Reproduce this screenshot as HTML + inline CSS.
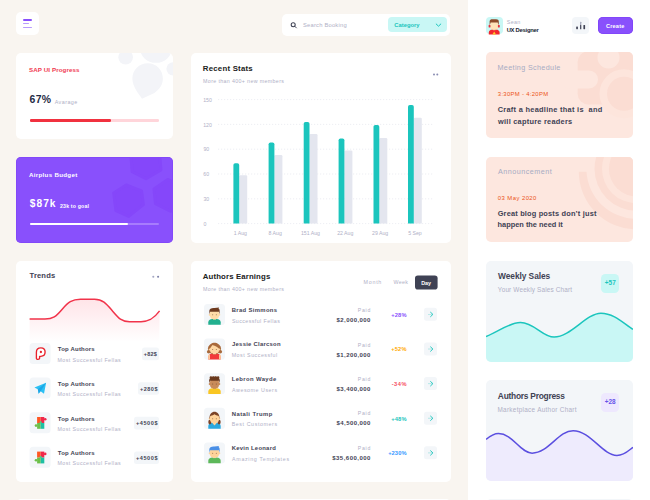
<!DOCTYPE html>
<html><head><meta charset="utf-8"><style>
html,body{margin:0;padding:0;}
body{width:650px;height:500px;overflow:hidden;position:relative;background:#F9F5F0;font-family:"Liberation Sans",sans-serif;}
.a{position:absolute;}
.t{position:absolute;white-space:pre;line-height:20px;height:20px;}
.r{}
</style></head><body>
<!-- sidebar -->
<div class="a" style="left:468px;top:0;width:182px;height:500px;background:#fff"></div>
<!-- menu button -->
<div class="a" style="left:16px;top:12px;width:23px;height:23px;background:#fff;border-radius:5px"></div>
<div class="a" style="left:23.2px;top:19.4px;width:9.3px;height:1.3px;background:#8950FC;border-radius:1px"></div>
<div class="a" style="left:23.2px;top:23px;width:6px;height:1.1px;background:#B99BFD;border-radius:1px"></div>
<div class="a" style="left:23.2px;top:26.8px;width:9.3px;height:1.1px;background:#B99BFD;border-radius:1px"></div>
<!-- search -->
<div class="a" style="left:282.2px;top:13.5px;width:168.3px;height:22.1px;background:#fff;border-radius:5px"></div>
<div class="a" style="left:388.4px;top:17px;width:58.9px;height:15.2px;background:#C9F7F5;border-radius:4px"></div>
<svg class="a" style="left:0;top:0" width="650" height="500" viewBox="0 0 650 500">
  <circle cx="293.2" cy="24.7" r="2" fill="none" stroke="#3F4254" stroke-width="1.05"/>
  <line x1="294.9" y1="26.4" x2="296.4" y2="27.9" stroke="#3F4254" stroke-width="0.9" stroke-linecap="round"/>
  <polyline points="436.2,24 438.5,26.2 440.8,24" fill="none" stroke="#1BC5BD" stroke-width="1" stroke-linecap="round" stroke-linejoin="round"/>
</svg>
<!-- left cards -->
<div class="a" style="left:16px;top:52.5px;width:156.5px;height:86.2px;background:#fff;border-radius:5px;overflow:hidden">
  <svg width="157" height="87" viewBox="16 52.5 156.5 86.2" style="display:block">
    <g fill="#F3F4F8">
      <circle cx="125.3" cy="56.5" r="7.3"/>
      <ellipse cx="155.5" cy="47" rx="16" ry="15"/>
      <circle cx="172.5" cy="68" r="6.6"/>
      <path d="M147.2 62.4 C156 62.4 162.4 69.2 162.4 77.6 C162.4 84 159 88.5 154 92 L141.6 97.8 C138.5 93 132 86 132 77.6 C132 69.2 138.8 62.4 147.2 62.4 Z"/>
    </g>
  </svg>
</div>
<div class="a" style="left:29.6px;top:119.3px;width:129.6px;height:2.3px;background:#FFD5DA;border-radius:1.2px"></div>
<div class="a" style="left:29.6px;top:119.3px;width:81.3px;height:2.3px;background:#F1313F;border-radius:1.2px"></div>

<div class="a" style="left:16px;top:156.5px;width:156.5px;height:86.5px;background:#8950FC;border-radius:5px;overflow:hidden;box-shadow:inset 0 0 0 0.5px #7C40F6">
  <svg width="157" height="87" viewBox="16 156.5 156.5 86.5" style="display:block">
    <g fill="#8547FA" stroke="#8547FA" stroke-width="3" stroke-linejoin="round">
      <polygon points="125.8,184.3 141.1,190.1 143.0,203.9 128.4,215.6 115.6,209.8 113.4,192.3"/>
      <polygon points="130.3,151.2 158.7,147.6 160.5,169.4 145.6,178.1 131.7,170.9"/>
      <polygon points="167.3,178.8 183.5,185.9 183.5,204.1 169.9,210.5 155.0,202.8 153.5,188.3"/>
    </g>
  </svg>
</div>
<div class="a" style="left:29.6px;top:223.3px;width:129.6px;height:2.2px;background:#A77CFD;border-radius:1.1px"></div>
<div class="a" style="left:29.6px;top:223.3px;width:98.4px;height:2.2px;background:#fff;border-radius:1.1px"></div>

<div class="a" style="left:16px;top:260.5px;width:156.5px;height:221px;background:#fff;border-radius:5px"></div>
<div class="a" style="left:16px;top:499px;width:156.5px;height:10px;background:#fff;border-radius:5px"></div>
<!-- middle cards -->
<div class="a" style="left:191px;top:52.5px;width:260px;height:190.2px;background:#fff;border-radius:5px"></div>
<div class="a" style="left:191px;top:260.5px;width:260px;height:221px;background:#fff;border-radius:5px"></div>
<div class="a" style="left:191px;top:499px;width:260px;height:10px;background:#fff;border-radius:5px"></div>
<!-- right column -->
<div class="a" style="left:485.8px;top:17.3px;width:17.2px;height:17.2px;background:#C9F7F5;border-radius:4px"></div>
<div class="a" style="left:572.3px;top:17.2px;width:16.8px;height:16.8px;background:#F3F6F9;border-radius:4px"></div>
<div class="a" style="left:598.1px;top:17.2px;width:34.5px;height:17.3px;background:#8950FC;border-radius:5px;box-shadow:inset 0 0 0 0.6px #7A3EF6"></div>
<div class="a" style="left:485.5px;top:52px;width:147px;height:86.2px;background:#FDE7DF;border-radius:5px;overflow:hidden">
  <svg width="147" height="87" viewBox="485.5 52 147 86.2" style="display:block">
    <g fill="#FBDDD3"><circle cx="587.7" cy="61.5" r="10.5"/><circle cx="587.7" cy="93.5" r="10.5"/><rect x="577.2" y="61.5" width="20" height="32"/><rect x="587.7" y="40" width="60" height="64"/></g>
    <rect x="560" y="70" width="37.5" height="18" rx="9" fill="#FDE7DF"/>
    <circle cx="608" cy="57" r="11" fill="#FDE7DF"/>
    <circle cx="623.5" cy="93.3" r="24.5" fill="#FDE5DC"/>
    <circle cx="623.5" cy="93.3" r="17" fill="#FBDDD3"/>
  </svg>
</div>
<div class="a" style="left:485.5px;top:156.5px;width:147px;height:85.5px;background:#FDE7DF;border-radius:5px;overflow:hidden">
  <svg width="147" height="86" viewBox="485.5 156.5 147 85.5" style="display:block">
    <path d="M578.3 170.9 A57.7 57.7 0 0 0 636 228.6 L636 218 A50 50 0 0 1 586 170.9 Z" fill="#FBDDD3"/>
    <circle cx="636" cy="168" r="42" fill="#FBDDD3"/>
    <circle cx="636" cy="168" r="34.5" fill="#FDE5DC"/>
    <circle cx="636" cy="168" r="27.6" fill="#FBDDD3"/>
  </svg>
</div>
<div class="a" style="left:485.5px;top:260.8px;width:147px;height:100.8px;background:#F3F6F9;border-radius:5px;overflow:hidden">
  <svg width="147" height="101" viewBox="485.5 260.8 147 100.8" style="display:block">
    <path d="M485.5 336.3 C500 330 510 322 520 322.2 C534 322.4 542 336.8 553.6 336.8 C570 336.8 586 312.9 600.4 312.9 C614 312.9 624 324 632.5 329 L632.5 362 L485.5 362 Z" fill="#C9F7F5"/>
    <path d="M485.5 336.3 C500 330 510 322 520 322.2 C534 322.4 542 336.8 553.6 336.8 C570 336.8 586 312.9 600.4 312.9 C614 312.9 624 324 632.5 329" fill="none" stroke="#1BC5BD" stroke-width="1.5"/>
  </svg>
</div>
<div class="a" style="left:600.8px;top:273.7px;width:18.7px;height:18.9px;background:#C9F7F5;border-radius:4.5px"></div>
<div class="a" style="left:485.5px;top:379.7px;width:147px;height:101.3px;background:#F3F6F9;border-radius:5px;overflow:hidden">
  <svg width="147" height="102" viewBox="485.5 379.7 147 101.3" style="display:block">
    <path d="M485.5 438.7 C490 435 494 432.9 498 432.9 C512 432.9 520 452.5 531.6 452.5 C548 452.5 558 430 572.6 430 C590 430 602 454.8 616.4 454.8 C624 454.8 628 450 632.5 446.6 L632.5 482 L485.5 482 Z" fill="#EEEBFD"/>
    <path d="M485.5 438.7 C490 435 494 432.9 498 432.9 C512 432.9 520 452.5 531.6 452.5 C548 452.5 558 430 572.6 430 C590 430 602 454.8 616.4 454.8 C624 454.8 628 450 632.5 446.6" fill="none" stroke="#5B4FE0" stroke-width="1.5"/>
  </svg>
</div>
<div class="a" style="left:600.8px;top:392.7px;width:18.7px;height:18.9px;background:#EEE8FE;border-radius:4.5px"></div>
<div class="a" style="left:485.5px;top:499px;width:147px;height:10px;background:#F3F6F9;border-radius:5px"></div>
<svg class="a" style="left:0;top:0" width="650" height="500" viewBox="0 0 650 500">
<line x1="218" y1="99.6" x2="433" y2="99.6" stroke="#E9EAF0" stroke-width="0.8" stroke-dasharray="1.2 1.8"/>
<line x1="218" y1="124.4" x2="433" y2="124.4" stroke="#E9EAF0" stroke-width="0.8" stroke-dasharray="1.2 1.8"/>
<line x1="218" y1="149.2" x2="433" y2="149.2" stroke="#E9EAF0" stroke-width="0.8" stroke-dasharray="1.2 1.8"/>
<line x1="218" y1="174" x2="433" y2="174" stroke="#E9EAF0" stroke-width="0.8" stroke-dasharray="1.2 1.8"/>
<line x1="218" y1="198.8" x2="433" y2="198.8" stroke="#E9EAF0" stroke-width="0.8" stroke-dasharray="1.2 1.8"/>
<line x1="218" y1="223.6" x2="433" y2="223.6" stroke="#E9EAF0" stroke-width="0.8" stroke-dasharray="1.2 1.8"/>
<path d="M239.20000000000002 176.39999999999998 Q239.20000000000002 175.2 240.4 175.2 L246.0 175.2 Q247.20000000000002 175.2 247.20000000000002 176.39999999999998 L247.20000000000002 223.4 L239.20000000000002 223.4 Z" fill="#E4E6EF"/>
<path d="M233.4 165.0 Q233.4 163.2 235.20000000000002 163.2 L237.4 163.2 Q239.20000000000002 163.2 239.20000000000002 165.0 L239.20000000000002 223.4 L233.4 223.4 Z" fill="#1BC5BD"/>
<path d="M274.40000000000003 156.2 Q274.40000000000003 155 275.6 155 L281.20000000000005 155 Q282.40000000000003 155 282.40000000000003 156.2 L282.40000000000003 223.4 L274.40000000000003 223.4 Z" fill="#E4E6EF"/>
<path d="M268.6 144.20000000000002 Q268.6 142.4 270.40000000000003 142.4 L272.6 142.4 Q274.40000000000003 142.4 274.40000000000003 144.20000000000002 L274.40000000000003 223.4 L268.6 223.4 Z" fill="#1BC5BD"/>
<path d="M309.5 135.2 Q309.5 134 310.7 134 L316.3 134 Q317.5 134 317.5 135.2 L317.5 223.4 L309.5 223.4 Z" fill="#E4E6EF"/>
<path d="M303.7 123.8 Q303.7 122 305.5 122 L307.7 122 Q309.5 122 309.5 123.8 L309.5 223.4 L303.7 223.4 Z" fill="#1BC5BD"/>
<path d="M344.40000000000003 151.7 Q344.40000000000003 150.5 345.6 150.5 L351.20000000000005 150.5 Q352.40000000000003 150.5 352.40000000000003 151.7 L352.40000000000003 223.4 L344.40000000000003 223.4 Z" fill="#E4E6EF"/>
<path d="M338.6 140.3 Q338.6 138.5 340.40000000000003 138.5 L342.6 138.5 Q344.40000000000003 138.5 344.40000000000003 140.3 L344.40000000000003 223.4 L338.6 223.4 Z" fill="#1BC5BD"/>
<path d="M379.3 139.2 Q379.3 138 380.5 138 L386.1 138 Q387.3 138 387.3 139.2 L387.3 223.4 L379.3 223.4 Z" fill="#E4E6EF"/>
<path d="M373.5 126.8 Q373.5 125 375.3 125 L377.5 125 Q379.3 125 379.3 126.8 L379.3 223.4 L373.5 223.4 Z" fill="#1BC5BD"/>
<path d="M413.8 119.0 Q413.8 117.8 415 117.8 L420.6 117.8 Q421.8 117.8 421.8 119.0 L421.8 223.4 L413.8 223.4 Z" fill="#E4E6EF"/>
<path d="M408 106.8 Q408 105 409.8 105 L412 105 Q413.8 105 413.8 106.8 L413.8 223.4 L408 223.4 Z" fill="#1BC5BD"/>
<circle cx="434" cy="74.6" r="1" fill="#8A8DB3"/><circle cx="437.3" cy="74.6" r="1" fill="#8A8DB3"/>
<circle cx="153.3" cy="276.7" r="1.05" fill="#A5A8C3"/><circle cx="158.1" cy="276.7" r="1.05" fill="#7E82A8"/>
<defs><linearGradient id="gr" x1="0" y1="0" x2="0" y2="1"><stop offset="0" stop-color="#FFE4E8"/><stop offset="1" stop-color="#FFFFFF"/></linearGradient></defs>
<path d="M29.6 319.1 L45 319.1 C53 319.1 56 316.5 62 309.5 C68 302.3 72 299.3 80.5 299.3 L94.5 299.3 C103 299.3 106.5 304 112.5 311 C118.5 318 121.5 321.7 129.5 321.7 L141 321.7 C149 321.7 154 318.5 159.6 310.9 L159.2 342 L29.6 342 Z" fill="url(#gr)"/>
<path d="M29.6 319.1 L45 319.1 C53 319.1 56 316.5 62 309.5 C68 302.3 72 299.3 80.5 299.3 L94.5 299.3 C103 299.3 106.5 304 112.5 311 C118.5 318 121.5 321.7 129.5 321.7 L141 321.7 C149 321.7 154 318.5 159.6 310.9" fill="none" stroke="#F1334A" stroke-width="1.5"/>
<rect x="29.6" y="343.0" width="21" height="21" rx="3.5" fill="#F3F6F9"/>
<rect x="142" y="347.6" width="17" height="12.6" rx="2.5" fill="#F3F6F9"/>
<rect x="29.6" y="377.6" width="21" height="21" rx="3.5" fill="#F3F6F9"/>
<rect x="138" y="382.20000000000005" width="21" height="12.6" rx="2.5" fill="#F3F6F9"/>
<rect x="29.6" y="412.2" width="21" height="21" rx="3.5" fill="#F3F6F9"/>
<rect x="134" y="416.8" width="25" height="12.6" rx="2.5" fill="#F3F6F9"/>
<rect x="29.6" y="446.8" width="21" height="21" rx="3.5" fill="#F3F6F9"/>
<rect x="134" y="451.40000000000003" width="25" height="12.6" rx="2.5" fill="#F3F6F9"/>
<path d="M36.4 352.2 C36.4 349.3 38.5 347.8 40.9 347.8 C43.5 347.8 45.1 349.7 45.1 352.1 C45.1 354.6 43.2 356.3 40.8 356.3 L39.6 356.3 L39.6 358.3 C39.6 359.7 36.4 359.9 36.4 358.2 Z" fill="#fff" stroke="#E8222C" stroke-width="1.35" stroke-linejoin="round"/>
<circle cx="40.9" cy="352" r="1.15" fill="#E8222C"/>
<polygon points="46.1,382.7 34.4,387.5 37.8,389.2 38.6,393.8 40.6,391.2 44,393.8" fill="#2BC0F4"/>
<polygon points="46.1,382.7 37.8,389.2 38.6,393.8 40.6,391.2" fill="#1394DC" opacity="0.6"/>
<rect x="37.1" y="417" width="3.6" height="6" fill="#FF5722"/>
<rect x="40.7" y="417" width="3.6" height="6" fill="#F0284A"/>
<circle cx="45.2" cy="419.3" r="1.3" fill="#F0284A"/>
<rect x="37.1" y="423" width="3.6" height="5.8" fill="#6CC04A"/>
<circle cx="36" cy="425.6" r="1.3" fill="#6CC04A"/>
<rect x="40.7" y="423" width="3.6" height="5.8" fill="#1DBFA4"/>
<circle cx="40.7" cy="422.4" r="1.1" fill="#43D18A"/>
<rect x="37.1" y="451.6" width="3.6" height="6" fill="#FF5722"/>
<rect x="40.7" y="451.6" width="3.6" height="6" fill="#F0284A"/>
<circle cx="45.2" cy="453.90000000000003" r="1.3" fill="#F0284A"/>
<rect x="37.1" y="457.6" width="3.6" height="5.8" fill="#6CC04A"/>
<circle cx="36" cy="460.20000000000005" r="1.3" fill="#6CC04A"/>
<rect x="40.7" y="457.6" width="3.6" height="5.8" fill="#1DBFA4"/>
<circle cx="40.7" cy="457.0" r="1.1" fill="#43D18A"/>
<rect x="415" y="275.4" width="22.6" height="14.2" rx="2.8" fill="#3F4254"/>
<rect x="204" y="303.9" width="21" height="21.2" rx="3.5" fill="#F3F6F9"/>
<rect x="424" y="307.8" width="13" height="13" rx="2.5" fill="#F3F6F9"/>
<polyline points="430.6,312.3 432.9,314.4 430.6,316.6" fill="none" stroke="#1BC5BD" stroke-width="0.95" stroke-linecap="round" stroke-linejoin="round"/>
<line x1="428" y1="314.4" x2="432.4" y2="314.4" stroke="#1BC5BD" stroke-width="0.8" opacity="0.35"/>
<rect x="204" y="338.52" width="21" height="21.2" rx="3.5" fill="#F3F6F9"/>
<rect x="424" y="342.42" width="13" height="13" rx="2.5" fill="#F3F6F9"/>
<polyline points="430.6,346.92 432.9,349.02 430.6,351.22" fill="none" stroke="#1BC5BD" stroke-width="0.95" stroke-linecap="round" stroke-linejoin="round"/>
<line x1="428" y1="349.02" x2="432.4" y2="349.02" stroke="#1BC5BD" stroke-width="0.8" opacity="0.35"/>
<rect x="204" y="373.14" width="21" height="21.2" rx="3.5" fill="#F3F6F9"/>
<rect x="424" y="377.04" width="13" height="13" rx="2.5" fill="#F3F6F9"/>
<polyline points="430.6,381.54 432.9,383.64 430.6,385.84000000000003" fill="none" stroke="#1BC5BD" stroke-width="0.95" stroke-linecap="round" stroke-linejoin="round"/>
<line x1="428" y1="383.64" x2="432.4" y2="383.64" stroke="#1BC5BD" stroke-width="0.8" opacity="0.35"/>
<rect x="204" y="407.76" width="21" height="21.2" rx="3.5" fill="#F3F6F9"/>
<rect x="424" y="411.65999999999997" width="13" height="13" rx="2.5" fill="#F3F6F9"/>
<polyline points="430.6,416.15999999999997 432.9,418.26 430.6,420.46000000000004" fill="none" stroke="#1BC5BD" stroke-width="0.95" stroke-linecap="round" stroke-linejoin="round"/>
<line x1="428" y1="418.26" x2="432.4" y2="418.26" stroke="#1BC5BD" stroke-width="0.8" opacity="0.35"/>
<rect x="204" y="442.38" width="21" height="21.2" rx="3.5" fill="#F3F6F9"/>
<rect x="424" y="446.28" width="13" height="13" rx="2.5" fill="#F3F6F9"/>
<polyline points="430.6,450.78 432.9,452.88 430.6,455.08000000000004" fill="none" stroke="#1BC5BD" stroke-width="0.95" stroke-linecap="round" stroke-linejoin="round"/>
<line x1="428" y1="452.88" x2="432.4" y2="452.88" stroke="#1BC5BD" stroke-width="0.8" opacity="0.35"/>
<path d="M208.3 324.8 L208.3 322.20000000000005 C208.3 320.20000000000005 209.9 319.20000000000005 212.3 319.0 L216.7 319.0 C219.1 319.20000000000005 220.7 320.20000000000005 220.7 322.20000000000005 L220.7 324.8 Z" fill="#22B08F"/><rect x="213.0" y="317.0" width="3" height="2.6" fill="#FFDCA8"/><circle cx="209.8" cy="314.8" r="1.1" fill="#FFDCA8"/><circle cx="219.2" cy="314.8" r="1.1" fill="#FFDCA8"/><rect x="210.0" y="309.6" width="9" height="9.4" rx="3.6" fill="#FFDCA8"/><path d="M209.5 314.6 L209.3 311.0 C209.3 308.6 211.5 307.8 214.5 308.0 L219.1 307.40000000000003 L218.5 308.6 C219.8 309.20000000000005 219.8 310.6 219.6 314.6 L218.9 311.8 L210.1 311.8 Z" fill="#6E3B1F"/><circle cx="212.7" cy="314.8" r="0.5" fill="#5B3A29" opacity="0.7"/><circle cx="216.3" cy="314.8" r="0.5" fill="#5B3A29" opacity="0.7"/>
<path d="M208.3 359.42 L208.3 356.82000000000005 C208.3 354.82000000000005 209.9 353.82000000000005 212.3 353.62 L216.7 353.62 C219.1 353.82000000000005 220.7 354.82000000000005 220.7 356.82000000000005 L220.7 359.42 Z" fill="#F23A3A"/><ellipse cx="214.5" cy="348.82000000000005" rx="6.6" ry="5.6" fill="#A96A3C"/><circle cx="208.7" cy="351.82000000000005" r="1.8" fill="#A96A3C"/><circle cx="220.3" cy="351.82000000000005" r="1.8" fill="#A96A3C"/><rect x="208.3" y="354.62" width="1.6" height="4.8" fill="#FFD8A4"/><rect x="219.1" y="354.62" width="1.6" height="4.8" fill="#FFD8A4"/><rect x="213.0" y="351.62" width="3" height="2.6" fill="#FFD8A4"/><circle cx="209.8" cy="349.42" r="1.1" fill="#FFD8A4"/><circle cx="219.2" cy="349.42" r="1.1" fill="#FFD8A4"/><rect x="210.0" y="344.22" width="9" height="9.4" rx="3.6" fill="#FFD8A4"/><path d="M209.5 349.22 C209.1 344.22 211.9 342.82000000000005 214.5 342.82000000000005 C217.1 342.82000000000005 219.9 344.22 219.5 349.22 C217.5 346.82000000000005 213.5 345.22 212.5 345.02000000000004 C211.5 346.62 210.5 347.62 209.5 349.22 Z" fill="#A96A3C"/><circle cx="212.7" cy="349.42" r="0.5" fill="#5B3A29" opacity="0.7"/><circle cx="216.3" cy="349.42" r="0.5" fill="#5B3A29" opacity="0.7"/>
<path d="M208.3 394.04 L208.3 391.44000000000005 C208.3 389.44000000000005 209.9 388.44000000000005 212.3 388.24 L216.7 388.24 C219.1 388.44000000000005 220.7 389.44000000000005 220.7 391.44000000000005 L220.7 394.04 Z" fill="#F9C623"/><rect x="213.0" y="386.24" width="3" height="2.6" fill="#C98B5A"/><circle cx="209.8" cy="384.04" r="1.1" fill="#C98B5A"/><circle cx="219.2" cy="384.04" r="1.1" fill="#C98B5A"/><rect x="210.0" y="378.84000000000003" width="9" height="9.4" rx="3.6" fill="#C98B5A"/><path d="M209.3 383.44000000000005 C208.3 378.84000000000003 210.5 376.64000000000004 214.5 376.84000000000003 C218.5 376.64000000000004 220.7 378.84000000000003 219.7 383.44000000000005 L219.1 380.84000000000003 L209.9 380.84000000000003 Z" fill="#6B3A1E"/><circle cx="210.9" cy="377.64000000000004" r="1.3" fill="#6B3A1E"/><circle cx="213.3" cy="377.64000000000004" r="1.3" fill="#6B3A1E"/><circle cx="215.7" cy="377.64000000000004" r="1.3" fill="#6B3A1E"/><circle cx="218.1" cy="377.64000000000004" r="1.3" fill="#6B3A1E"/><circle cx="212.7" cy="384.04" r="0.5" fill="#5B3A29" opacity="0.7"/><circle cx="216.3" cy="384.04" r="0.5" fill="#5B3A29" opacity="0.7"/>
<path d="M208.3 428.66 L208.3 426.06000000000006 C208.3 424.06000000000006 209.9 423.06000000000006 212.3 422.86 L216.7 422.86 C219.1 423.06000000000006 220.7 424.06000000000006 220.7 426.06000000000006 L220.7 428.66 Z" fill="#2BA8DF"/><ellipse cx="209.9" cy="422.06000000000006" rx="1.6" ry="2.4" fill="#7B4327"/><ellipse cx="219.1" cy="422.06000000000006" rx="1.6" ry="2.4" fill="#7B4327"/><path d="M212.1 422.86 L214.5 425.46000000000004 L216.9 422.86 Z" fill="#FFD39A"/><rect x="213.0" y="420.86" width="3" height="2.6" fill="#FFD39A"/><circle cx="209.8" cy="418.66" r="1.1" fill="#FFD39A"/><circle cx="219.2" cy="418.66" r="1.1" fill="#FFD39A"/><rect x="210.0" y="413.46000000000004" width="9" height="9.4" rx="3.6" fill="#FFD39A"/><path d="M209.5 419.46000000000004 C209.1 413.46000000000004 211.9 411.66 214.5 411.66 C217.1 411.66 219.9 413.46000000000004 219.5 419.46000000000004 L218.7 416.06000000000006 C216.5 415.46000000000004 215.5 414.86 214.5 414.26000000000005 C213.5 414.86 212.5 415.46000000000004 210.3 416.06000000000006 Z" fill="#7B4327"/><circle cx="212.7" cy="418.66" r="0.5" fill="#5B3A29" opacity="0.7"/><circle cx="216.3" cy="418.66" r="0.5" fill="#5B3A29" opacity="0.7"/>
<path d="M208.3 463.28000000000003 L208.3 460.68000000000006 C208.3 458.68000000000006 209.9 457.68000000000006 212.3 457.48 L216.7 457.48 C219.1 457.68000000000006 220.7 458.68000000000006 220.7 460.68000000000006 L220.7 463.28000000000003 Z" fill="#5DB85A"/><rect x="213.0" y="455.48" width="3" height="2.6" fill="#FFD39A"/><circle cx="209.8" cy="453.28000000000003" r="1.1" fill="#FFD39A"/><circle cx="219.2" cy="453.28000000000003" r="1.1" fill="#FFD39A"/><rect x="210.0" y="448.08000000000004" width="9" height="9.4" rx="3.6" fill="#FFD39A"/><path d="M209.5 453.08000000000004 L209.3 449.48 C209.3 447.08000000000004 211.5 446.28000000000003 214.5 446.48 L219.1 445.88000000000005 L218.5 447.08000000000004 C219.8 447.68000000000006 219.8 449.08000000000004 219.6 453.08000000000004 L218.9 450.28000000000003 L210.1 450.28000000000003 Z" fill="#4A8FE6"/><circle cx="212.7" cy="453.28000000000003" r="0.5" fill="#5B3A29" opacity="0.7"/><circle cx="216.3" cy="453.28000000000003" r="0.5" fill="#5B3A29" opacity="0.7"/>
<path d="M488.8 34.4 L488.8 32.4 C488.8 30.6 490.4 29.6 492.2 29.4 L496.2 29.4 C498 29.6 499.6 30.6 499.6 32.4 L499.6 34.4 Z" fill="#F2262F"/>
<path d="M492.4 34.4 L494.2 31.6 L496 34.4 Z" fill="#FFC928"/>
<rect x="493" y="28" width="2.4" height="2.2" fill="#F7CFA0"/>
<rect x="490.3" y="21.4" width="7.8" height="8.2" rx="2.6" fill="#FFE3B8"/>
<path d="M489.6 25 L489.6 21.6 C489.6 19.9 490.8 19.3 492.6 19.3 L496 19.3 C497.8 19.3 498.8 20 498.8 21.6 L498.8 25 L497.8 23 L497.8 22.6 L490.6 22.6 L490.6 23 Z" fill="#8E4B2A"/>
<rect x="488.6" y="24.8" width="1.9" height="2.8" rx="0.9" fill="#E8303A"/><rect x="497.9" y="24.8" width="1.9" height="2.8" rx="0.9" fill="#E8303A"/>
<rect x="576.2" y="26.6" width="1.7" height="2.6" rx="0.4" fill="#3F4254"/><rect x="580.1" y="21.8" width="1.2" height="3.4" rx="0.4" fill="#A1A5B7"/><rect x="580.1" y="25" width="1.2" height="4.2" rx="0.3" fill="#3F4254"/><rect x="583.4" y="24.9" width="1.7" height="4.3" rx="0.4" fill="#3F4254"/>
</svg>
<div class="t r" style="left:302.97px;top:15.09px;font-size:5.8px;font-weight:400;color:#B0B0C6;letter-spacing:0.208px;">Search Booking</div>
<div class="t" style="left:394.37px;top:14.99px;font-size:5.8px;font-weight:700;color:#1BC5BD;">Category</div>
<div class="t r" style="left:506.78px;top:12.13px;font-size:5.4px;font-weight:400;color:#B0B0C6;letter-spacing:0.303px;">Sean</div>
<div class="t" style="left:506.65px;top:20.19px;font-size:5.8px;font-weight:700;color:#181C32;letter-spacing:-0.229px;">UX Designer</div>
<div class="t" style="left:605.98px;top:15.96px;font-size:5.6px;font-weight:700;color:#FFFFFF;letter-spacing:0.188px;">Create</div>
<div class="t" style="left:29.08px;top:60.05px;font-size:6.2px;font-weight:700;color:#F03A52;letter-spacing:0.098px;">SAP UI Progress</div>
<div class="t" style="left:29.59px;top:90.20px;font-size:10.4px;font-weight:700;color:#1E2A44;letter-spacing:0.348px;">67%</div>
<div class="t r" style="left:54.70px;top:91.93px;font-size:5.4px;font-weight:400;color:#B0B0C6;letter-spacing:0.430px;">Avarage</div>
<div class="t" style="left:28.98px;top:164.55px;font-size:6.2px;font-weight:700;color:#FFFFFF;letter-spacing:0.301px;">Airplus Budget</div>
<div class="t" style="left:29.80px;top:194.37px;font-size:10.2px;font-weight:700;color:#FFFFFF;letter-spacing:1.024px;">$87k</div>
<div class="t" style="left:60.04px;top:196.10px;font-size:5.2px;font-weight:700;color:#FFFFFF;letter-spacing:0.175px;">23k to goal</div>
<div class="t" style="left:202.83px;top:59.00px;font-size:7.8px;font-weight:700;color:#212121;letter-spacing:0.236px;">Recent Stats</div>
<div class="t r" style="left:203.08px;top:71.16px;font-size:5.3px;font-weight:400;color:#B0B0C6;letter-spacing:0.354px;">More than 400+ new members</div>
<div class="t r" style="left:203.24px;top:89.70px;font-size:5.2px;font-weight:400;color:#B0B0C6;">150</div>
<div class="t r" style="left:203.24px;top:114.50px;font-size:5.2px;font-weight:400;color:#B0B0C6;">120</div>
<div class="t r" style="left:203.39px;top:139.30px;font-size:5.2px;font-weight:400;color:#B0B0C6;">90</div>
<div class="t r" style="left:203.34px;top:164.10px;font-size:5.2px;font-weight:400;color:#B0B0C6;">60</div>
<div class="t r" style="left:203.44px;top:188.90px;font-size:5.2px;font-weight:400;color:#B0B0C6;">30</div>
<div class="t r" style="left:203.44px;top:213.70px;font-size:5.2px;font-weight:400;color:#B0B0C6;">0</div>
<div class="t r" style="left:233.67px;top:223.10px;font-size:5.2px;font-weight:400;color:#B0B0C6;">1 Aug</div>
<div class="t r" style="left:268.55px;top:223.10px;font-size:5.2px;font-weight:400;color:#B0B0C6;">8 Aug</div>
<div class="t r" style="left:300.88px;top:223.10px;font-size:5.2px;font-weight:400;color:#B0B0C6;">151 Aug</div>
<div class="t r" style="left:337.18px;top:223.10px;font-size:5.2px;font-weight:400;color:#B0B0C6;">22 Aug</div>
<div class="t r" style="left:372.08px;top:223.10px;font-size:5.2px;font-weight:400;color:#B0B0C6;">29 Aug</div>
<div class="t r" style="left:408.20px;top:223.10px;font-size:5.2px;font-weight:400;color:#B0B0C6;">5 Sep</div>
<div class="t" style="left:202.84px;top:266.70px;font-size:7.8px;font-weight:700;color:#212121;letter-spacing:0.133px;">Authors Earnings</div>
<div class="t r" style="left:203.08px;top:278.76px;font-size:5.3px;font-weight:400;color:#B0B0C6;letter-spacing:0.354px;">More than 400+ new members</div>
<div class="t r" style="left:363.58px;top:272.36px;font-size:5.3px;font-weight:400;color:#B0B0C6;letter-spacing:0.748px;">Month</div>
<div class="t r" style="left:393.40px;top:272.36px;font-size:5.3px;font-weight:400;color:#B0B0C6;letter-spacing:0.365px;">Week</div>
<div class="t" style="left:421.17px;top:272.53px;font-size:5.4px;font-weight:700;color:#FFFFFF;">Day</div>
<div class="t" style="left:231.75px;top:299.76px;font-size:5.9px;font-weight:700;color:#3F4254;letter-spacing:0.339px;">Brad Simmons</div>
<div class="t r" style="left:231.89px;top:310.56px;font-size:5.3px;font-weight:400;color:#B0B0C6;letter-spacing:0.421px;">Successful Fellas</div>
<div class="t r" style="left:357.68px;top:300.40px;font-size:5.2px;font-weight:400;color:#B0B0C6;letter-spacing:0.800px;">Paid</div>
<div class="t" style="left:336.54px;top:310.32px;font-size:6.0px;font-weight:700;color:#3F4254;letter-spacing:0.428px;">$2,000,000</div>
<div class="t" style="left:391.17px;top:304.52px;font-size:5.7px;font-weight:700;color:#8950FC;letter-spacing:0.200px;">+28%</div>
<div class="t" style="left:232.04px;top:334.38px;font-size:5.9px;font-weight:700;color:#3F4254;letter-spacing:0.263px;">Jessie Clarcson</div>
<div class="t r" style="left:231.68px;top:345.18px;font-size:5.3px;font-weight:400;color:#B0B0C6;letter-spacing:0.498px;">Most Successful</div>
<div class="t r" style="left:357.68px;top:334.75px;font-size:5.2px;font-weight:400;color:#B0B0C6;letter-spacing:0.800px;">Paid</div>
<div class="t" style="left:336.54px;top:344.67px;font-size:6.0px;font-weight:700;color:#3F4254;letter-spacing:0.428px;">$1,200,000</div>
<div class="t" style="left:391.17px;top:339.22px;font-size:5.7px;font-weight:700;color:#FFA800;letter-spacing:0.200px;">+52%</div>
<div class="t" style="left:231.75px;top:369.00px;font-size:5.9px;font-weight:700;color:#3F4254;letter-spacing:0.371px;">Lebron Wayde</div>
<div class="t r" style="left:232.10px;top:379.80px;font-size:5.3px;font-weight:400;color:#B0B0C6;letter-spacing:0.539px;">Awesome Users</div>
<div class="t r" style="left:357.68px;top:369.10px;font-size:5.2px;font-weight:400;color:#B0B0C6;letter-spacing:0.800px;">Paid</div>
<div class="t" style="left:336.54px;top:379.02px;font-size:6.0px;font-weight:700;color:#3F4254;letter-spacing:0.428px;">$3,400,000</div>
<div class="t" style="left:391.63px;top:373.92px;font-size:5.7px;font-weight:700;color:#F64E60;letter-spacing:0.525px;">-34%</div>
<div class="t" style="left:231.75px;top:403.62px;font-size:5.9px;font-weight:700;color:#3F4254;letter-spacing:0.442px;">Natali Trump</div>
<div class="t r" style="left:231.68px;top:414.42px;font-size:5.3px;font-weight:400;color:#B0B0C6;letter-spacing:0.591px;">Best Customers</div>
<div class="t r" style="left:357.68px;top:403.45px;font-size:5.2px;font-weight:400;color:#B0B0C6;letter-spacing:0.800px;">Paid</div>
<div class="t" style="left:336.54px;top:413.37px;font-size:6.0px;font-weight:700;color:#3F4254;letter-spacing:0.428px;">$4,500,000</div>
<div class="t" style="left:391.17px;top:408.62px;font-size:5.7px;font-weight:700;color:#1BC5BD;letter-spacing:0.200px;">+48%</div>
<div class="t" style="left:231.75px;top:438.24px;font-size:5.9px;font-weight:700;color:#3F4254;letter-spacing:0.261px;">Kevin Leonard</div>
<div class="t r" style="left:232.10px;top:449.04px;font-size:5.3px;font-weight:400;color:#B0B0C6;letter-spacing:0.676px;">Amazing Templates</div>
<div class="t r" style="left:357.68px;top:437.80px;font-size:5.2px;font-weight:400;color:#B0B0C6;letter-spacing:0.800px;">Paid</div>
<div class="t" style="left:332.24px;top:447.72px;font-size:6.0px;font-weight:700;color:#3F4254;letter-spacing:0.481px;">$35,600,000</div>
<div class="t" style="left:388.17px;top:443.32px;font-size:5.7px;font-weight:700;color:#3699FF;letter-spacing:0.108px;">+230%</div>
<div class="t" style="left:29.52px;top:266.47px;font-size:7.6px;font-weight:700;color:#3F4254;letter-spacing:0.146px;">Trends</div>
<div class="t" style="left:57.84px;top:339.42px;font-size:6.0px;font-weight:700;color:#3F4254;letter-spacing:0.186px;">Top Authors</div>
<div class="t r" style="left:57.48px;top:349.66px;font-size:5.3px;font-weight:400;color:#B0B0C6;letter-spacing:0.433px;">Most Successful Fellas</div>
<div class="t" style="left:143.68px;top:344.29px;font-size:5.5px;font-weight:700;color:#3F4254;letter-spacing:0.288px;">+82$</div>
<div class="t" style="left:57.84px;top:374.02px;font-size:6.0px;font-weight:700;color:#3F4254;letter-spacing:0.186px;">Top Authors</div>
<div class="t r" style="left:57.48px;top:384.26px;font-size:5.3px;font-weight:400;color:#B0B0C6;letter-spacing:0.433px;">Most Successful Fellas</div>
<div class="t" style="left:139.88px;top:378.89px;font-size:5.5px;font-weight:700;color:#3F4254;letter-spacing:0.552px;">+280$</div>
<div class="t" style="left:57.84px;top:408.62px;font-size:6.0px;font-weight:700;color:#3F4254;letter-spacing:0.186px;">Top Authors</div>
<div class="t r" style="left:57.48px;top:418.86px;font-size:5.3px;font-weight:400;color:#B0B0C6;letter-spacing:0.433px;">Most Successful Fellas</div>
<div class="t" style="left:135.88px;top:413.49px;font-size:5.5px;font-weight:700;color:#3F4254;letter-spacing:0.630px;">+4500$</div>
<div class="t" style="left:57.84px;top:443.22px;font-size:6.0px;font-weight:700;color:#3F4254;letter-spacing:0.186px;">Top Authors</div>
<div class="t r" style="left:57.48px;top:453.46px;font-size:5.3px;font-weight:400;color:#B0B0C6;letter-spacing:0.433px;">Most Successful Fellas</div>
<div class="t" style="left:135.88px;top:448.09px;font-size:5.5px;font-weight:700;color:#3F4254;letter-spacing:0.630px;">+4500$</div>
<div class="t r" style="left:497.52px;top:57.91px;font-size:7.2px;font-weight:400;color:#A7ABC3;letter-spacing:0.353px;">Meeting Schedule</div>
<div class="t r" style="left:497.82px;top:84.36px;font-size:5.9px;font-weight:400;color:#EC5418;letter-spacing:0.314px;">3:30PM - 4:20PM</div>
<div class="t" style="left:497.70px;top:100.44px;font-size:7.4px;font-weight:700;color:#3F4254;letter-spacing:0.286px;">Craft a headline that is  and</div>
<div class="t" style="left:498.07px;top:112.04px;font-size:7.4px;font-weight:700;color:#3F4254;letter-spacing:0.247px;">will capture readers</div>
<div class="t r" style="left:498.10px;top:161.91px;font-size:7.2px;font-weight:400;color:#A7ABC3;letter-spacing:0.486px;">Announcement</div>
<div class="t r" style="left:497.82px;top:188.26px;font-size:5.9px;font-weight:400;color:#EC5418;letter-spacing:0.448px;">03 May 2020</div>
<div class="t" style="left:497.70px;top:204.24px;font-size:7.4px;font-weight:700;color:#3F4254;letter-spacing:0.180px;">Great blog posts don’t just</div>
<div class="t" style="left:497.56px;top:215.44px;font-size:7.4px;font-weight:700;color:#3F4254;">happen the need it</div>
<div class="t" style="left:498.00px;top:266.49px;font-size:8.4px;font-weight:700;color:#3F4254;letter-spacing:-0.062px;">Weekly Sales</div>
<div class="t r" style="left:497.87px;top:280.18px;font-size:6.4px;font-weight:400;color:#B0B0C6;letter-spacing:0.160px;">Your Weekly Sales Chart</div>
<div class="t" style="left:604.64px;top:273.38px;font-size:6.4px;font-weight:700;color:#1BC5BD;letter-spacing:0.116px;">+57</div>
<div class="t" style="left:497.83px;top:386.09px;font-size:8.4px;font-weight:700;color:#3F4254;letter-spacing:-0.245px;">Authors Progress</div>
<div class="t r" style="left:497.49px;top:399.98px;font-size:6.4px;font-weight:400;color:#B0B0C6;letter-spacing:0.286px;">Marketplace Author Chart</div>
<div class="t" style="left:604.64px;top:392.38px;font-size:6.4px;font-weight:700;color:#6754E8;letter-spacing:0.084px;">+28</div>
</body></html>
